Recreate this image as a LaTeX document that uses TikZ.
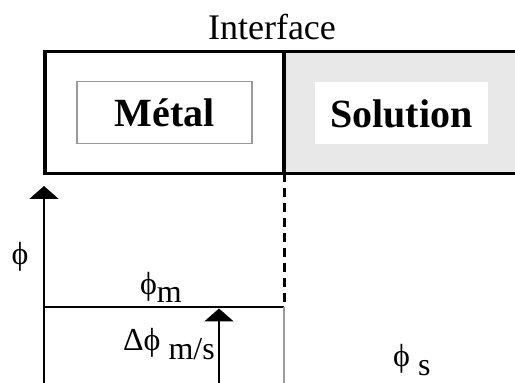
\documentclass[tikz,border=0pt]{standalone}
\usepackage{fontspec}
\setmainfont{Liberation Serif}
\usetikzlibrary{arrows.meta}
\definecolor{solfill}{HTML}{E8E8E8}
\definecolor{softline}{HTML}{9A9A9A}
\newcommand{\lowsub}[1]{\raisebox{-.55ex}{#1}}

\begin{document}
\begin{tikzpicture}[x=1pt,y=1pt,
 every node/.style={font=\fontsize{32}{35}\selectfont,inner sep=0pt},
 phase/.style={font=\fontsize{40}{44}\selectfont\bfseries,minimum height=62pt},
 frame/.style={draw=black,line width=3.5pt},
 axis/.style={-{Triangle[width=29pt,length=13pt]},draw=black,line width=2.5pt}]
\useasboundingbox (0,0) rectangle (515,383);
% interface bar
\fill[solfill] (284,209.5) rectangle (520,331.5);
\draw[frame] (520,331.5) -- (45,331.5) -- (45,209.5) -- (520,209.5);
\draw[frame] (284,331.5) -- (284,209.5) coordinate (ifoot);
\node[font=\fontsize{36}{40}\selectfont] (iface) at (272,356) {Interface};
\node[phase,draw=softline,line width=1.5pt,minimum width=175pt] (metal) at (164.5,270.5) {Métal};
\node[phase,fill=white,minimum width=173pt] (sol) at (401.5,269.5) {Solution};
% potential levels
\coordinate (origin) at (44,0);
\coordinate (level) at (44,76);
\coordinate (corner) at (284,76);
\draw[dashed,dash pattern=on 9pt off 6pt,line width=3pt] (ifoot) -- (corner);
\draw[line width=2pt] (level) -- (corner);
\draw[softline,line width=2pt] (corner) -- (284,0);
\draw[axis] (origin) -- (44,197) coordinate (top);
\draw[axis] (219,0) coordinate (dbase) -- (219,74.5) coordinate (dtip);
\node (phi) at (20,126) {ϕ};
\node (phim) at (161,96) {ϕ\lowsub{m}};
\node[anchor=base east] (dphi) at (215,32) {Δϕ \lowsub{m/s}};
\node[anchor=base west] (phis) at (393,16) {ϕ \lowsub{s}};
\end{tikzpicture}
\end{document}
